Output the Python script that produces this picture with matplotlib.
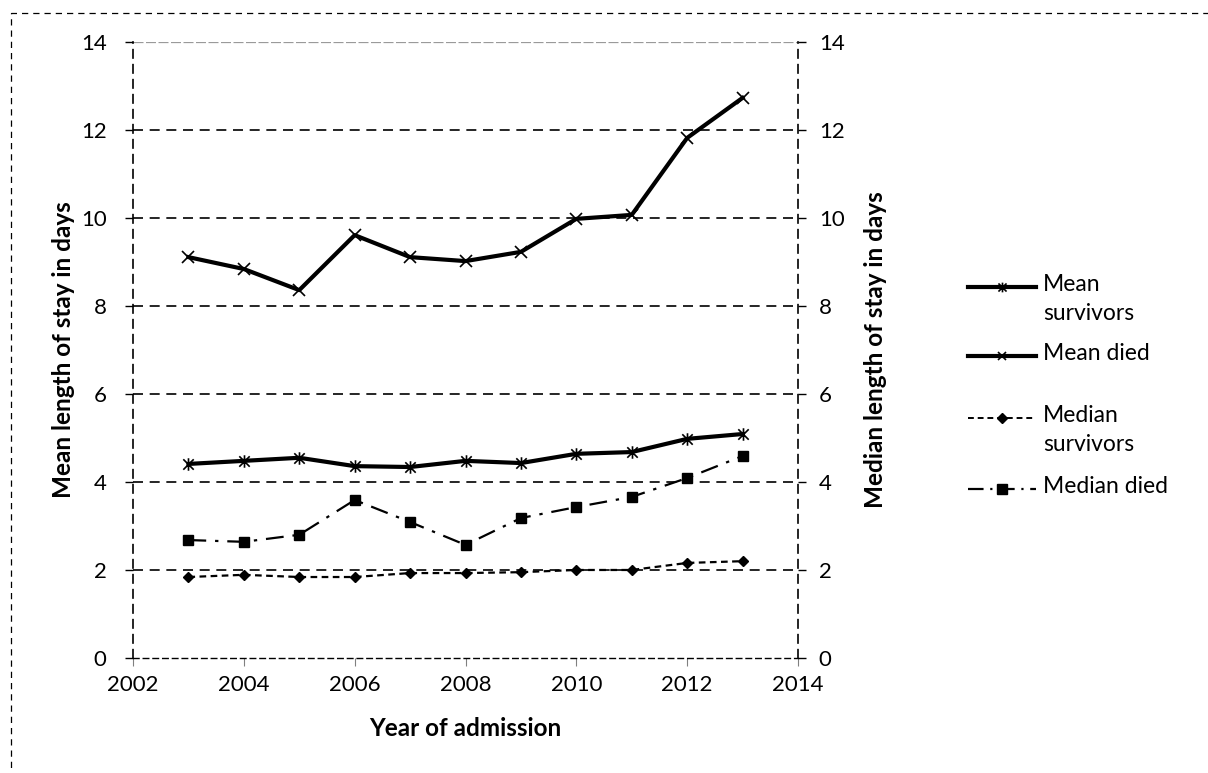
import matplotlib
matplotlib.use("Agg")
import matplotlib.pyplot as plt
from matplotlib.lines import Line2D
from matplotlib.patches import Rectangle
from matplotlib.path import Path
from matplotlib import font_manager

# length of stay by year of admission
years = [2003, 2004, 2005, 2006, 2007, 2008, 2009, 2010, 2011, 2012, 2013]
mean_survivors = [4.41, 4.48, 4.55, 4.36, 4.34, 4.48, 4.43, 4.64, 4.68, 4.98, 5.09]
mean_died = [9.11, 8.84, 8.36, 9.61, 9.11, 9.02, 9.23, 9.98, 10.07, 11.82, 12.73]
median_survivors = [1.84, 1.89, 1.84, 1.84, 1.93, 1.93, 1.95, 2.00, 2.00, 2.16, 2.20]
median_died = [2.68, 2.64, 2.80, 3.59, 3.09, 2.57, 3.18, 3.43, 3.66, 4.09, 4.59]

x_ticks = [2002, 2004, 2006, 2008, 2010, 2012, 2014]
y_ticks = [0, 2, 4, 6, 8, 10, 12, 14]

installed = {f.name for f in font_manager.fontManager.ttflist}
family = "Liberation Sans Narrow" if "Liberation Sans Narrow" in installed else "Lato"
plt.rcParams["font.family"] = [family, "DejaVu Sans"]
TICK_FS = 16
LABEL_FS = 17.5
LEGEND_FS = 16.5

# Excel style star: an x crossed by a vertical bar
star = Path([(-1, -1), (1, 1), (-1, 1), (1, -1), (0, -1.2), (0, 1.2)],
            [Path.MOVETO, Path.LINETO, Path.MOVETO, Path.LINETO,
             Path.MOVETO, Path.LINETO])

fig = plt.figure(figsize=(12.08, 7.73), dpi=100)
ax = fig.add_axes([0.1101, 0.1488, 0.5505, 0.7969])
ax2 = ax.twinx()

# chart area border
fig.add_artist(Rectangle((0.0091, -0.1), 1.2, 1.083, transform=fig.transFigure,
                         fill=False, edgecolor="black", linewidth=0.9,
                         linestyle=(0, (5, 4))))

ax.set_xlim(2002, 2014)
ax.set_ylim(0, 14)
ax2.set_ylim(0, 14)
ax.set_xticks(x_ticks)
ax.set_yticks(y_ticks)
ax2.set_yticks(y_ticks)

# horizontal gridlines
for v in y_ticks[1:-1]:
    ax.axhline(v, color="black", linewidth=1.2, linestyle=(0, (6, 4)), zorder=1)
ax.axhline(14, color="#9a9a9a", linewidth=0.9, linestyle=(0, (8, 2)), zorder=1)

for a in (ax, ax2):
    for s in a.spines.values():
        s.set_visible(False)
ax.spines["left"].set_visible(True)
ax.spines["left"].set_linestyle((0, (5, 4)))
ax.spines["left"].set_linewidth(1.2)
ax.spines["bottom"].set_visible(True)
ax.spines["bottom"].set_linestyle((0, (4, 3)))
ax.spines["bottom"].set_linewidth(1.0)
ax2.spines["right"].set_visible(True)
ax2.spines["right"].set_linestyle((0, (5, 4)))
ax2.spines["right"].set_linewidth(1.2)

ax.tick_params(axis="y", length=6, width=1.0, labelsize=TICK_FS, pad=13)
ax.tick_params(axis="x", length=6, width=0.8, color="#808080", labelsize=TICK_FS, pad=6)
ax2.tick_params(axis="y", length=6, width=1.0, labelsize=TICK_FS, pad=9)

ax.plot(years, mean_survivors, color="black", linewidth=3, marker=star,
        markersize=9, markeredgewidth=1.2, zorder=4)
ax.plot(years, mean_died, color="black", linewidth=3, marker="x",
        markersize=8, markeredgewidth=1.2, zorder=4)
ax.plot(years, median_survivors, color="black", linewidth=1.6,
        linestyle=(0, (3, 2)), marker="D", markersize=5.5, zorder=4)
ax.plot(years, median_died, color="black", linewidth=1.6,
        linestyle=(0, (8, 4, 1.5, 4)), marker="s", markersize=7, zorder=4)

ax.set_xlabel("Year of admission", fontsize=LABEL_FS, fontweight="bold", labelpad=16)
ax.set_ylabel("Mean length of stay in days", fontsize=LABEL_FS, fontweight="bold", labelpad=4)
ax2.set_ylabel("Median length of stay in days", fontsize=LABEL_FS, fontweight="bold", labelpad=14)

# legend drawn by hand to keep the Excel-style spacing
W, H = 1208.0, 773.0
entries = [
    ("Mean\nsurvivors", 287, dict(linewidth=3, linestyle="-", marker=star, markersize=7, markeredgewidth=1.2)),
    ("Mean died", 356, dict(linewidth=3, linestyle="-", marker="x", markersize=6, markeredgewidth=1.2)),
    ("Median\nsurvivors", 418, dict(linewidth=1.4, linestyle=(0, (3, 2)), marker="D", markersize=5)),
    ("Median died", 489, dict(linewidth=1.6, linestyle=(0, (7, 3, 1, 3)), marker="s", markersize=7)),
]
for label, ypx, style in entries:
    yf = 1 - ypx / H
    fig.add_artist(Line2D([968 / W, 1036 / W], [yf, yf], color="black",
                          transform=fig.transFigure, **style, markevery=[]))
    fig.add_artist(Line2D([1002 / W], [yf], color="black", linestyle="none",
                          transform=fig.transFigure, marker=style["marker"],
                          markersize=style["markersize"],
                          markeredgewidth=style.get("markeredgewidth", 1.0)))
    fig.text(1043 / W, yf + 13 / H, label, fontsize=LEGEND_FS, va="top",
             transform=fig.transFigure, linespacing=1.45)

fig.savefig("out.png", dpi=100)
